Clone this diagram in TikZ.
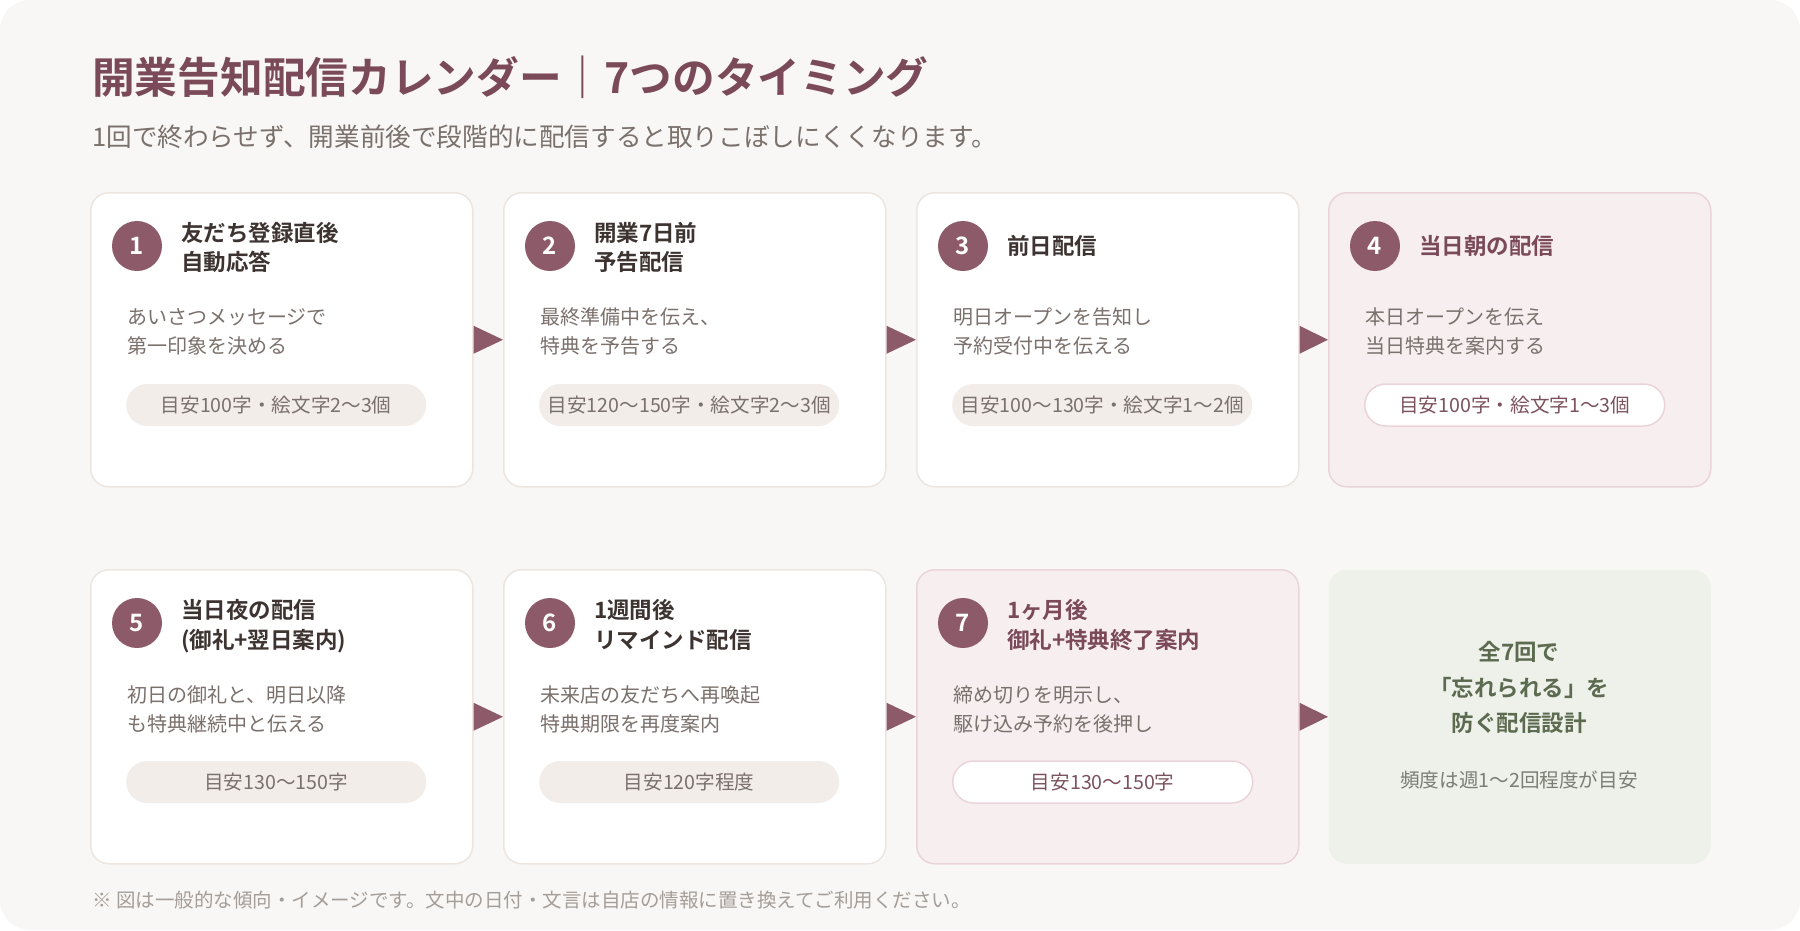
\documentclass[tikz,border=0pt]{standalone}
\usepackage{fontspec}
\setmainfont{Noto Sans CJK JP}
\newfontfamily\jpb{Noto Sans CJK JP Bold}
\definecolor{pagebg}{HTML}{F8F7F5}
\definecolor{plum}{HTML}{8C5A68}
\definecolor{plumtxt}{HTML}{7B4A5A}
\definecolor{darktxt}{HTML}{3D3431}
\definecolor{graytxt}{HTML}{7A706C}
\definecolor{cardline}{HTML}{ECE5E0}
\definecolor{pillfill}{HTML}{F2EDE9}
\definecolor{pinkfill}{HTML}{F7EEF0}
\definecolor{pinkline}{HTML}{EAD4DA}
\definecolor{greenfill}{HTML}{EEF0EA}
\definecolor{greentxt}{HTML}{5C6B4F}
\definecolor{greensub}{HTML}{7B7E74}
\definecolor{foottxt}{HTML}{A59D98}
\newcommand\fsz[1]{\fontsize{#1}{#1}\selectfont}
\begin{document}
\begin{tikzpicture}[x=1pt,y=-1pt,
  cardbox/.style={draw=cardline,fill=white,line width=1.5pt,rounded corners=18pt,minimum width=382pt,minimum height=294pt,anchor=north west,inner sep=0pt},
  pinkbox/.style={cardbox,draw=pinkline,fill=pinkfill},
  greenbox/.style={cardbox,draw=none,fill=greenfill},
  numdot/.style={circle,fill=plum,minimum size=50pt,inner sep=0pt,text=white,font=\jpb\fsz{24}},
  ttl/.style={anchor=west,inner sep=0pt,text=darktxt,font=\jpb\fsz{22.5},text height=19.8pt,text depth=2.7pt},
  pinkttl/.style={ttl,text=plumtxt},
  desc/.style={anchor=west,inner sep=0pt,text=graytxt,font=\fsz{20},text height=17.6pt,text depth=2.4pt},
  pill/.style={rounded corners=21pt,fill=pillfill,minimum width=300pt,minimum height=42pt,inner sep=0pt,anchor=west,text=graytxt,font=\fsz{19.6},text height=17.2pt,text depth=2.4pt},
  whitepill/.style={pill,fill=white,draw=pinkline,line width=1.5pt,text=plumtxt!80!graytxt},
  greenttl/.style={inner sep=0pt,text=greentxt,font=\jpb\fsz{22.5},text height=19.8pt,text depth=2.7pt},
  greensubtxt/.style={inner sep=0pt,text=greensub,font=\fsz{19.6},text height=17.2pt,text depth=2.4pt},
  arrowfill/.style={fill=plum}
]
\useasboundingbox (0,0) rectangle (1800,930);
\fill[white] (0,0) rectangle (1800,930);
\fill[pagebg,rounded corners=30pt] (0,0) rectangle (1800,930);

\node[anchor=west,inner sep=0pt,text=plumtxt,font=\jpb\fsz{42.7},text height=37.6pt,text depth=5.1pt] (title) at (92,77) {開業告知配信カレンダー｜7つのタイミング};
\node[anchor=west,inner sep=0pt,text=graytxt,font=\fsz{25.6},text height=22.5pt,text depth=3.1pt] (subtitle) at (92,137) {1回で終わらせず、開業前後で段階的に配信すると取りこぼしにくくなります。};

% ---------- row 1 ----------
\begin{scope}[shift={(90,192)}]
\node[cardbox] (c1) at (0,0) {};
\node[numdot] (n1) at (47,54) {1};
\node[ttl] (t1a) at (91,41) {友だち登録直後};
\node[ttl] (t1b) at (91,70) {自動応答};
\node[desc] (d1a) at (37,125) {あいさつメッセージで};
\node[desc] (d1b) at (37,154) {第一印象を決める};
\node[pill] (p1) at (36,213) {目安100字・絵文字2〜3個};
\end{scope}

\begin{scope}[shift={(503,192)}]
\node[cardbox] (c2) at (0,0) {};
\node[numdot] (n2) at (47,54) {2};
\node[ttl] (t2a) at (91,41) {開業7日前};
\node[ttl] (t2b) at (91,70) {予告配信};
\node[desc] (d2a) at (37,125) {最終準備中を伝え、};
\node[desc] (d2b) at (37,154) {特典を予告する};
\node[pill] (p2) at (36,213) {目安120〜150字・絵文字2〜3個};
\end{scope}

\begin{scope}[shift={(916,192)}]
\node[cardbox] (c3) at (0,0) {};
\node[numdot] (n3) at (47,54) {3};
\node[ttl] (t3a) at (91,54) {前日配信};
\node[desc] (d3a) at (37,125) {明日オープンを告知し};
\node[desc] (d3b) at (37,154) {予約受付中を伝える};
\node[pill] (p3) at (36,213) {目安100〜130字・絵文字1〜2個};
\end{scope}

\begin{scope}[shift={(1328,192)}]
\node[pinkbox] (c4) at (0,0) {};
\node[numdot] (n4) at (47,54) {4};
\node[pinkttl] (t4a) at (91,54) {当日朝の配信};
\node[desc] (d4a) at (37,125) {本日オープンを伝え};
\node[desc] (d4b) at (37,154) {当日特典を案内する};
\node[whitepill] (p4) at (36,213) {目安100字・絵文字1〜3個};
\end{scope}

% ---------- row 2 ----------
\begin{scope}[shift={(90,569)}]
\node[cardbox] (c5) at (0,0) {};
\node[numdot] (n5) at (47,54) {5};
\node[ttl] (t5a) at (91,41) {当日夜の配信};
\node[ttl] (t5b) at (91,71) {(御礼+翌日案内)};
\node[desc] (d5a) at (37,126) {初日の御礼と、明日以降};
\node[desc] (d5b) at (37,155) {も特典継続中と伝える};
\node[pill] (p5) at (36,213) {目安130〜150字};
\end{scope}

\begin{scope}[shift={(503,569)}]
\node[cardbox] (c6) at (0,0) {};
\node[numdot] (n6) at (47,54) {6};
\node[ttl] (t6a) at (91,41) {1週間後};
\node[ttl] (t6b) at (91,71) {リマインド配信};
\node[desc] (d6a) at (37,126) {未来店の友だちへ再喚起};
\node[desc] (d6b) at (37,155) {特典期限を再度案内};
\node[pill] (p6) at (36,213) {目安120字程度};
\end{scope}

\begin{scope}[shift={(916,569)}]
\node[pinkbox] (c7) at (0,0) {};
\node[numdot] (n7) at (47,54) {7};
\node[pinkttl] (t7a) at (91,41) {1ヶ月後};
\node[pinkttl] (t7b) at (91,71) {御礼+特典終了案内};
\node[desc] (d7a) at (37,126) {締め切りを明示し、};
\node[desc] (d7b) at (37,155) {駆け込み予約を後押し};
\node[whitepill] (p7) at (36,213) {目安130〜150字};
\end{scope}

\begin{scope}[shift={(1328,569)}]
\node[greenbox] (c8) at (0,0) {};
\node[greenttl] (g1) at (191,83) {全7回で};
\node[greenttl] (g2) at (191,119) {「忘れられる」を};
\node[greenttl] (g3) at (191,154) {防ぐ配信設計};
\node[greensubtxt] (g4) at (191,211) {頻度は週1〜2回程度が目安};
\end{scope}

% ---------- arrows ----------
\foreach \a/\b in {c1/c2,c2/c3,c3/c4,c5/c6,c6/c7,c7/c8}{
  \fill[arrowfill] ([yshift=14pt]\a.east) -- ([yshift=-14pt]\a.east) -- (\b.west) -- cycle;
}

\node[anchor=west,inner sep=0pt,text=foottxt,font=\fsz{19.5},text height=17.2pt,text depth=2.3pt] (foot) at (92,900) {※ 図は一般的な傾向・イメージです。文中の日付・文言は自店の情報に置き換えてご利用ください。};
\end{tikzpicture}
\end{document}
